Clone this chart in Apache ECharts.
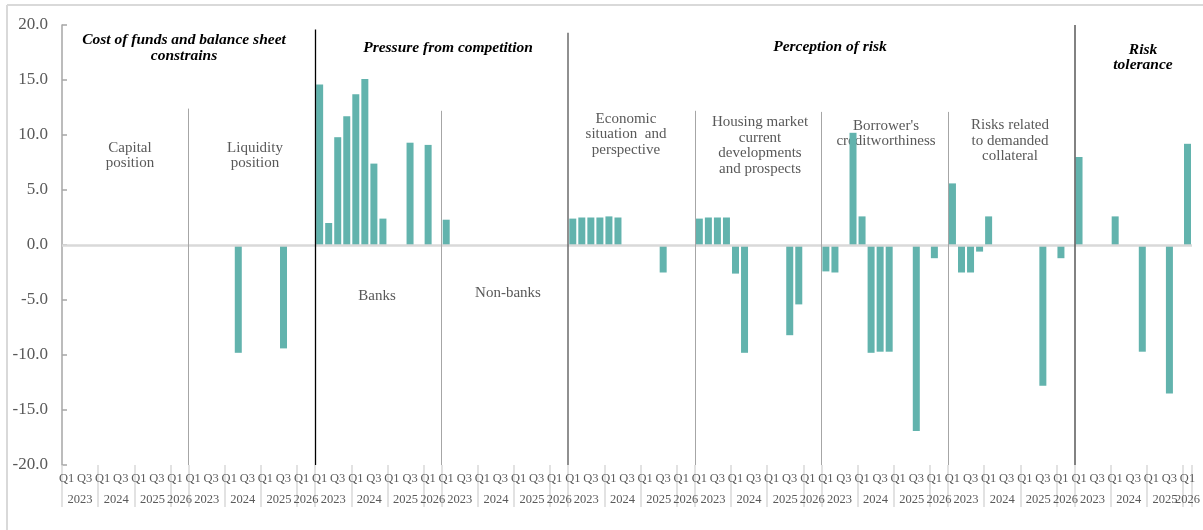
<!DOCTYPE html>
<html><head><meta charset="utf-8">
<script src="https://cdn.jsdelivr.net/npm/echarts@6/dist/echarts.min.js"></script>
<style>html,body{margin:0;padding:0;background:#fff}#c{width:1203px;height:530px}</style>
</head><body><div id="c"></div>
<script>
// ---- data ----
const quarters = ['Q1','Q2','Q3','Q4','Q1','Q2','Q3','Q4','Q1','Q2','Q3','Q4','Q1'];
const years = ['2023','2024','2025','2026'];
const yTickValues = [-20,-15,-10,-5,0,5,10,15,20];
const capitalPosition   = [null,null,null,null,null,null,null,null,null,null,null,null,null];
const liquidityPosition = [null,null,null,null,null,-9.8,null,null,null,null,-9.4,null,null];
const banks             = [14.6,2.0,9.8,11.7,13.7,15.1,7.4,2.4,null,null,9.3,null,9.1];
const nonBanks          = [2.3,null,null,null,null,null,null,null,null,null,null,null,null];
const economicSituation = [2.4,2.5,2.5,2.5,2.6,2.5,null,null,null,null,-2.5,null,null];
const housingMarket     = [2.4,2.5,2.5,2.5,-2.6,-9.8,null,null,null,null,-8.2,-5.4,null];
const creditworthiness  = [-2.4,-2.5,null,10.2,2.6,-9.8,-9.7,-9.7,null,null,-16.9,null,-1.2];
const collateralRisk    = [5.6,-2.5,-2.5,-0.6,2.6,null,null,null,null,null,-12.8,null,-1.2];
const riskTolerance     = [8.0,null,null,null,2.6,null,null,-9.7,null,null,-13.5,null,9.2];

// ---- build category axis (13 quarters + 1 blank separator per group) ----
const groups = [capitalPosition, liquidityPosition, banks, nonBanks, economicSituation,
                housingMarket, creditworthiness, collateralRisk, riskTolerance];
const cats = [], vals = [];
groups.forEach((g, gi) => {
  quarters.forEach((q, qi) => { cats.push(q); vals.push(g[qi]); });
  if (gi < groups.length - 1) { cats.push(''); vals.push(null); }
});
// half-step boundary axis for year labels and separators
const nB = cats.length;
const half = new Array(2 * nB + 1).fill('');
const tickIdx = new Set();
const groupBounds = [];
let s = 0;
groups.forEach((g, gi) => {
  const last = gi === groups.length - 1;
  const spans = [4, 4, 4, last ? 1 : 2];
  let b = s;
  tickIdx.add(2 * b);
  if (gi > 0) groupBounds.push(2 * b);
  spans.forEach((w, yi) => { half[2 * b + w] = years[yi]; b += w; tickIdx.add(2 * b); });
  s = b;
});

const FONT = 'Liberation Serif';
const GREY = '#595959';
const dividerStyle = [
  {top: 12.4, c: '#a6a6a6', w: 1},
  {top: 19.6, c: '#000000', w: 1.3},
  {top: 12.2, c: '#a6a6a6', w: 1},
  {top: 19.3, c: '#6b6b6b', w: 1.5},
  {top: 12.2, c: '#a6a6a6', w: 1},
  {top: 12.1, c: '#a6a6a6', w: 1},
  {top: 12.1, c: '#a6a6a6', w: 1},
  {top: 20.0, c: '#595959', w: 1.5}
];

const chart = echarts.init(document.getElementById('c'));
const txt = (x, y, t, bold) => ({
  type: 'text', x: x, y: y, silent: true,
  style: {
    text: t, textAlign: 'center', textVerticalAlign: 'middle',
    font: (bold ? 'italic bold 15.5px ' : '15px ') + FONT,
    fill: bold ? '#000' : GREY, lineHeight: 15.5
  }
});
chart.setOption({
  animation: false,
  grid: {left: 62, right: 9, top: 25, bottom: 65, containLabel: false},
  xAxis: [
    {
      type: 'category', data: cats, position: 'bottom',
      axisLine: {show: false, onZero: false}, axisTick: {show: false},
      axisLabel: {interval: (i, v) => v === 'Q1' || v === 'Q3', margin: 7,
                  fontSize: 12.5, fontFamily: FONT, color: GREY},
      splitLine: {show: false}
    },
    {
      type: 'category', data: half, boundaryGap: false, position: 'bottom',
      axisLine: {show: false, onZero: false},
      axisTick: {show: true, length: 42, interval: (i) => tickIdx.has(i),
                 lineStyle: {color: '#d9d9d9', width: 1.5}},
      axisLabel: {interval: 0, margin: 28, fontSize: 12.5, fontFamily: FONT, color: GREY},
      splitLine: {show: false}
    }
  ],
  yAxis: {
    type: 'value', min: -20, max: 20, interval: 5,
    axisLine: {show: true, lineStyle: {color: '#a6a6a6', width: 1.5}},
    axisTick: {show: true, inside: true, length: 5, lineStyle: {color: '#a6a6a6', width: 1.5}},
    axisLabel: {formatter: v => v.toFixed(1), fontSize: 17, fontFamily: FONT, color: GREY, margin: 14},
    splitLine: {show: false}
  },
  series: [
    {
      type: 'bar', data: vals, xAxisIndex: 0, barWidth: 7,
      itemStyle: {color: '#62b3ad'},
      markLine: {
        silent: true, symbol: ['none', 'none'], label: {show: false},
        lineStyle: {color: '#d9d9d9', width: 2.5, type: 'solid'},
        data: [{yAxis: 0}]
      }
    },
    {
      type: 'line', xAxisIndex: 1, data: [], silent: true,
      markLine: {
        silent: true, symbol: ['none', 'none'], label: {show: false},
        data: groupBounds.map((k, i) => [
          {coord: [k, dividerStyle[i].top], lineStyle: {color: dividerStyle[i].c, width: dividerStyle[i].w, type: 'solid'}},
          {coord: [k, -20]}
        ])
      }
    }
  ],
  graphic: [
    {type: 'line', silent: true, shape: {x1: 7, y1: 5, x2: 1203, y2: 5}, style: {stroke: '#d9d9d9', lineWidth: 2}},
    {type: 'line', silent: true, shape: {x1: 7, y1: 5, x2: 7, y2: 530}, style: {stroke: '#d9d9d9', lineWidth: 2}},
    txt(184, 48, 'Cost of funds and balance sheet\nconstrains', true),
    txt(448, 48, 'Pressure from competition', true),
    txt(830, 47, 'Perception of risk', true),
    txt(1143, 57.5, 'Risk\ntolerance', true),
    txt(130, 155.5, 'Capital\nposition'),
    txt(255, 155.5, 'Liquidity\nposition'),
    txt(377, 296, 'Banks'),
    txt(508, 293, 'Non-banks'),
    txt(626, 134.5, 'Economic\nsituation  and\nperspective'),
    txt(760, 145.5, 'Housing market\ncurrent\ndevelopments\nand prospects'),
    txt(886, 133.5, "Borrower's\ncreditworthiness"),
    txt(1010, 141, 'Risks related\nto demanded\ncollateral')
  ]
});
</script></body></html>
